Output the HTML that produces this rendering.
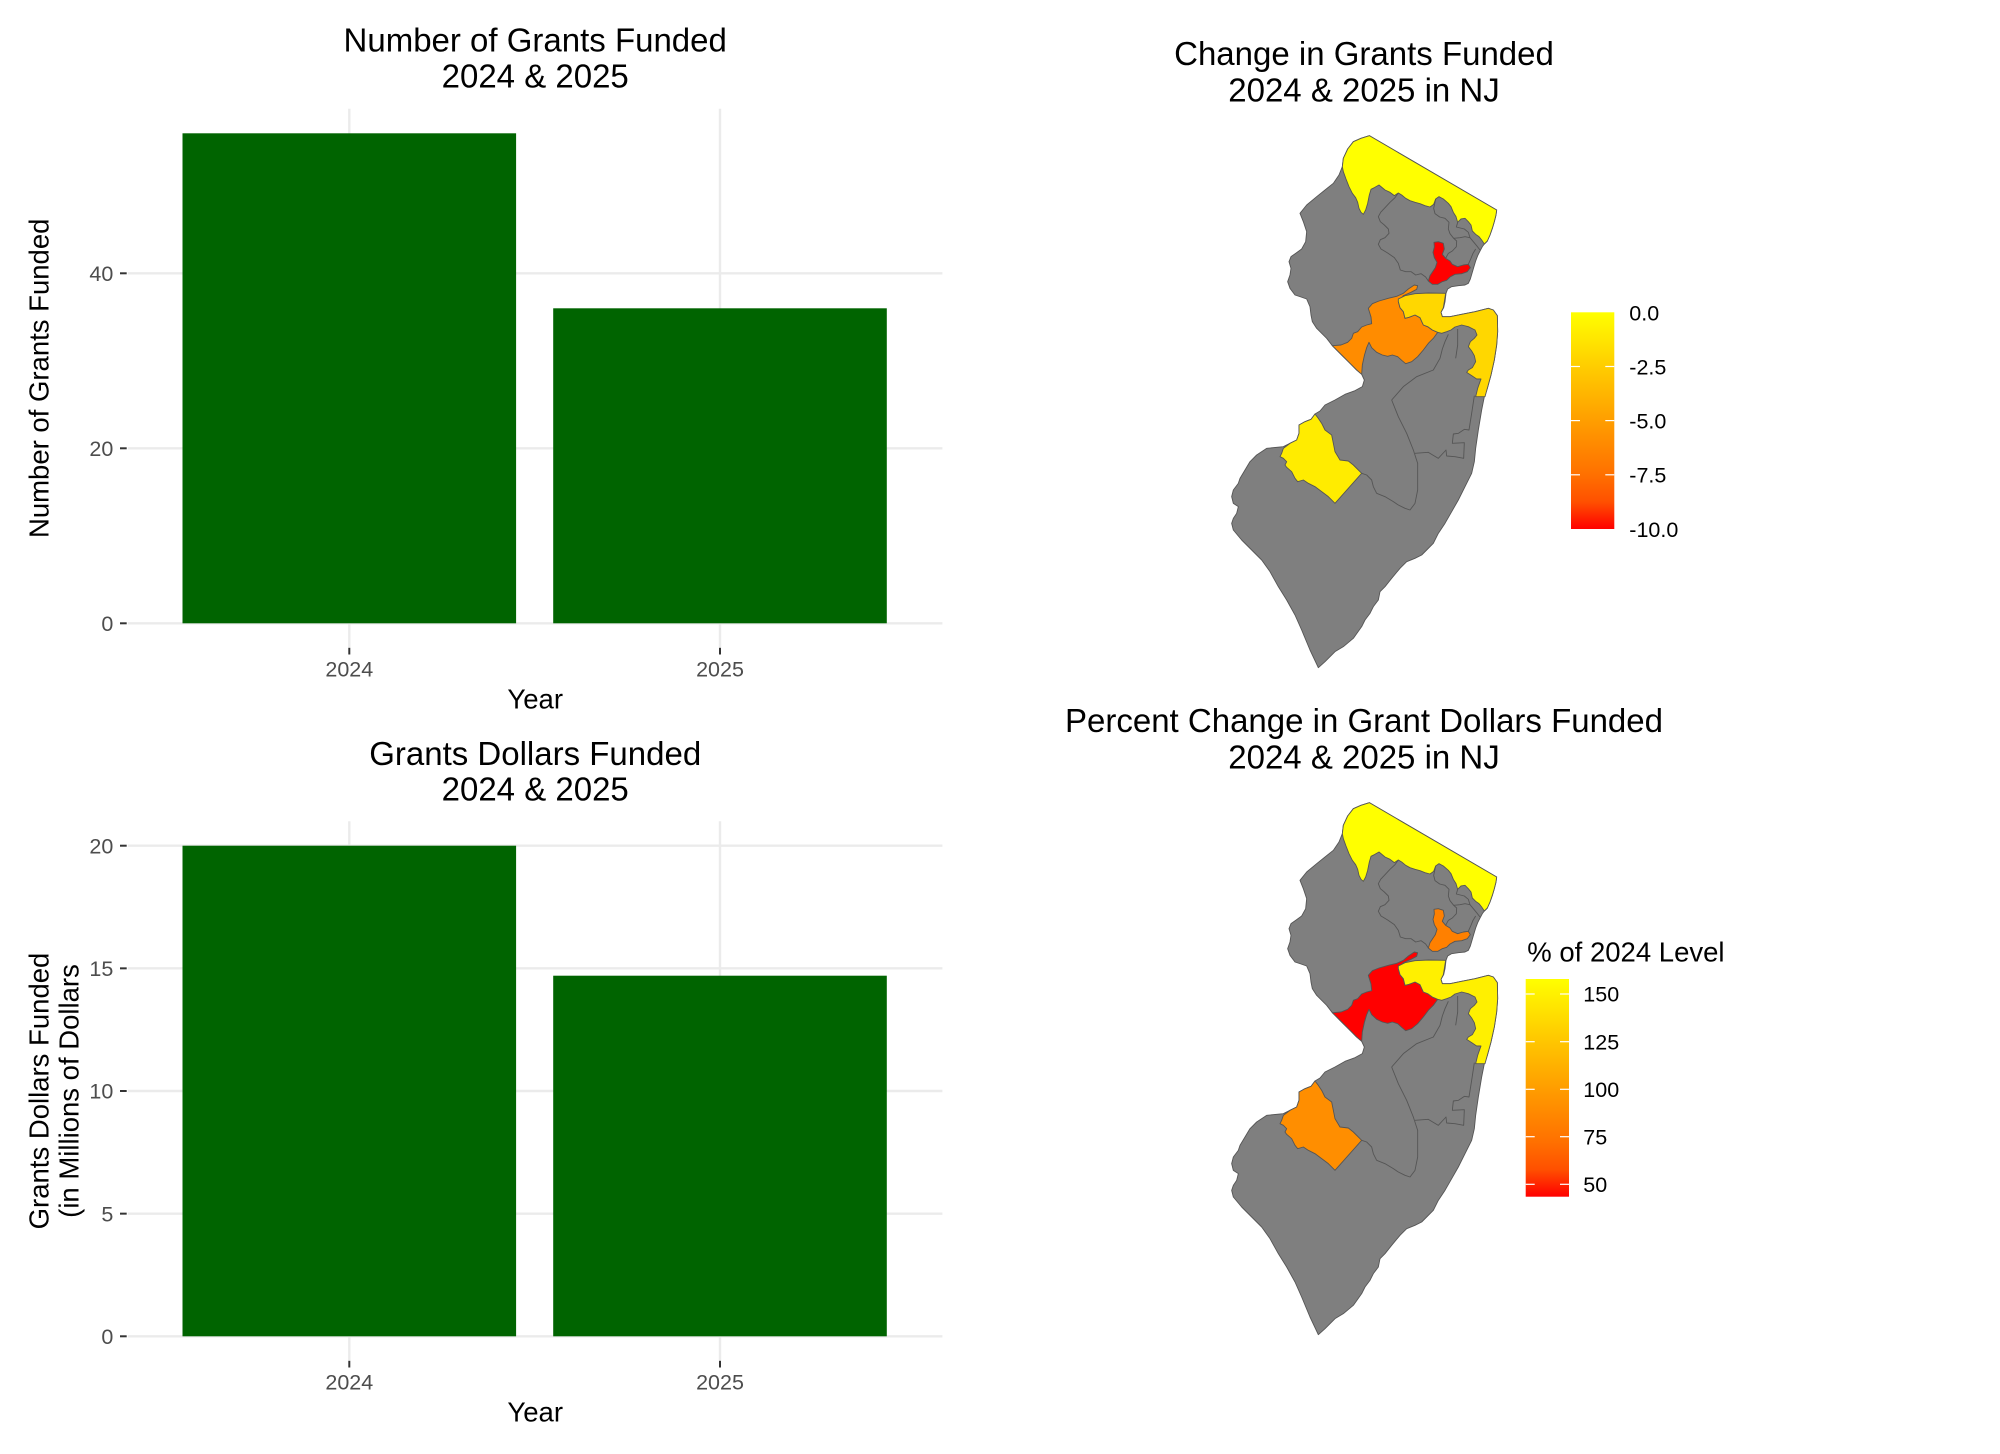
<!DOCTYPE html>
<html>
<head>
<meta charset="utf-8">
<style>
  html, body { margin: 0; padding: 0; background: #ffffff; }
  svg { display: block; }
  text { font-family: "Liberation Sans", Arial, sans-serif; }
</style>
</head>
<body>
<svg width="2000" height="1454" viewBox="0 0 2000 1454" xmlns="http://www.w3.org/2000/svg">
  <defs>
    <linearGradient id="rygrad" x1="0" y1="0" x2="0" y2="1">
      <stop offset="0" stop-color="#FFFF00"/>
      <stop offset="0.125" stop-color="#FFE600"/>
      <stop offset="0.25" stop-color="#FFCD00"/>
      <stop offset="0.5" stop-color="#FF9E00"/>
      <stop offset="0.75" stop-color="#FF7000"/>
      <stop offset="0.875" stop-color="#FF5000"/>
      <stop offset="1" stop-color="#FF0000"/>
    </linearGradient>

    <polygon id="state" points="403,32 785,255 783,270 778,290 772,310 765,330 757,348 748,357 742,365 735,378 728,392 722,408 716,428 711,445 706,462 700,475 690,480 670,482 650,485 638,492 633,505 630,530 626,548 618,562 622,575 645,575 680,568 720,560 760,550 775,555 787,572 788,620 785,660 778,705 768,750 757,790 748,815 740,855 730,915 722,970 718,1010 710,1045 690,1085 670,1125 650,1160 630,1195 610,1225 595,1255 575,1275 560,1290 540,1300 515,1310 495,1330 470,1360 450,1385 435,1400 430,1425 415,1445 405,1465 390,1485 380,1505 355,1540 325,1565 300,1580 270,1610 250,1628 225,1575 200,1515 180,1470 155,1425 130,1385 105,1340 80,1305 50,1275 20,1245 -5,1215 -10,1195 -5,1180 5,1165 10,1145 -5,1135 -10,1115 -5,1095 10,1075 15,1060 30,1035 45,1010 65,990 95,970 145,965 165,955 185,945 192,925 192,900 210,890 228,883 240,867 255,858 270,840 300,825 330,808 360,797 382,785 388,765 380,748 365,735 345,715 320,690 292,662 275,640 260,625 245,610 232,590 228,570 225,545 215,522 198,516 180,510 165,490 158,470 165,450 168,430 162,410 168,395 182,385 200,372 212,350 215,320 205,290 195,265 215,240 245,215 270,195 295,175 312,150 322,125 325,100 338,72 355,50 378,40"/>
    <polygon id="d5" points="403,32 785,255 783,270 778,290 772,310 765,330 757,348 748,357 740,345 732,335 722,328 712,318 708,300 700,290 690,280 678,282 668,292 663,275 655,262 648,245 640,235 625,222 612,215 602,222 596,238 585,246 570,242 555,236 540,232 525,227 512,220 500,210 490,204 478,212 465,202 450,195 432,180 418,188 408,193 403,210 398,235 392,255 385,268 378,262 372,250 368,232 362,218 352,205 342,185 333,162 325,140 322,125 325,100 338,72 355,50 378,40"/>
    <polygon id="d10" points="597,352 610,350 625,355 628,372 622,388 632,400 645,408 652,418 668,425 685,420 700,418 706,428 697,440 680,446 660,448 645,456 635,466 622,470 608,478 592,478 580,468 585,452 593,440 601,428 606,412 598,398 594,382 598,366"/>
    <polygon id="d12" points="292,662 318,660 338,652 350,640 355,625 368,620 380,606 395,600 410,596 408,576 400,550 412,536 432,528 460,520 485,514 505,505 520,492 538,480 548,482 545,493 528,502 505,512 490,530 495,548 505,560 510,580 522,577 540,570 555,578 565,600 578,605 592,615 608,622 595,640 580,655 565,675 548,695 530,710 512,716 500,706 488,695 472,690 458,694 442,690 425,682 410,668 402,652 395,668 388,692 382,720 380,748 365,735 345,715 320,690"/>
    <polygon id="d6" points="490,522 510,512 540,506 580,504 632,505 628,530 625,548 618,562 622,575 645,575 680,568 720,560 760,550 775,555 787,572 788,620 785,660 778,705 768,750 757,790 750,815 722,815 728,790 735,770 738,762 725,762 710,752 695,742 700,735 712,728 722,710 718,692 710,678 700,665 706,650 718,640 726,630 720,615 700,605 680,600 660,606 648,615 635,620 620,625 608,622 592,615 578,605 565,600 555,578 540,570 522,577 510,580 505,560 495,548 490,530"/>
    <polygon id="d3" points="240,867 250,880 260,895 270,915 290,930 295,955 300,980 315,1005 340,1008 355,1020 380,1045 300,1135 280,1115 260,1100 240,1085 220,1075 205,1065 188,1070 180,1060 170,1040 155,1027 150,1020 155,1010 145,1000 135,995 140,985 145,970 165,955 185,945 192,925 192,900 210,890 228,883"/>
    <g id="lines" fill="none" stroke="#555555" stroke-width="2.7">
      <polyline points="490,204 480,218 465,232 450,248 437,262 430,275 436,290 448,300 460,312 462,325 450,338 436,344 430,358 438,372 458,384 478,398 490,415 496,435 512,440 528,440 542,450 558,446 572,456 580,468"/>
      <polyline points="602,222 596,250 600,266 614,276 630,280 642,292 640,312 645,326 656,340 665,348 664,365 652,378 640,385 632,400"/>
      <polyline points="668,292 664,306 688,312 700,322 705,338 715,350 725,362 735,375"/>
      <polyline points="656,340 675,338 690,335 705,338"/>
      <polyline points="700,418 708,400 714,385 722,372"/>
      <polyline points="470,825 505,785 545,755 595,735 615,700 622,672 630,650 640,628"/>
      <polyline points="668,612 668,660 662,700"/>
      <polyline points="470,825 490,875 515,925 535,975 548,1015 548,1095 540,1135 525,1155 510,1150 490,1140 475,1130 450,1115 425,1105 415,1085 410,1065 395,1050 380,1045"/>
      <polyline points="718,812 710,865 702,915 688,913 670,925 655,927 652,955 688,953 686,1000 660,995 635,993 633,975 610,1000 580,982 540,985"/>
    </g>
  </defs>

  <!-- ================= TOP-LEFT BAR CHART ================= -->
  <g>
    <g stroke="#EBEBEB" stroke-width="2.4">
      <line x1="127.9" y1="623.3" x2="942.4" y2="623.3"/>
      <line x1="127.9" y1="448.3" x2="942.4" y2="448.3"/>
      <line x1="127.9" y1="273.3" x2="942.4" y2="273.3"/>
      <line x1="349.3" y1="108.8" x2="349.3" y2="647.8"/>
      <line x1="720" y1="108.8" x2="720" y2="647.8"/>
    </g>
    <rect x="182.5" y="133.3" width="333.6" height="490" fill="#006400"/>
    <rect x="553.2" y="308.3" width="333.6" height="315" fill="#006400"/>
    <g stroke="#333333" stroke-width="2">
      <line x1="120" y1="623.3" x2="126.7" y2="623.3"/>
      <line x1="120" y1="448.3" x2="126.7" y2="448.3"/>
      <line x1="120" y1="273.3" x2="126.7" y2="273.3"/>
      <line x1="349.3" y1="647.8" x2="349.3" y2="654.5"/>
      <line x1="720" y1="647.8" x2="720" y2="654.5"/>
    </g>
    <g font-size="21.5" fill="#4D4D4D" text-anchor="end">
      <text x="113.3" y="631">0</text>
      <text x="113.3" y="456">20</text>
      <text x="113.3" y="281">40</text>
    </g>
    <g font-size="21.5" fill="#4D4D4D" text-anchor="middle">
      <text x="349.3" y="676.7">2024</text>
      <text x="720" y="676.7">2025</text>
    </g>
    <text x="535.2" y="708.3" font-size="27.5" text-anchor="middle" fill="#000">Year</text>
    <text transform="translate(48.3,378.3) rotate(-90)" font-size="27.5" text-anchor="middle" fill="#000">Number of Grants Funded</text>
    <g font-size="33" text-anchor="middle" fill="#000">
      <text x="535.2" y="51.7">Number of Grants Funded</text>
      <text x="535.2" y="87.3">2024 &amp; 2025</text>
    </g>
  </g>

  <!-- ================= BOTTOM-LEFT BAR CHART ================= -->
  <g>
    <g stroke="#EBEBEB" stroke-width="2.4">
      <line x1="127.9" y1="1336.3" x2="942.4" y2="1336.3"/>
      <line x1="127.9" y1="1213.65" x2="942.4" y2="1213.65"/>
      <line x1="127.9" y1="1091" x2="942.4" y2="1091"/>
      <line x1="127.9" y1="968.35" x2="942.4" y2="968.35"/>
      <line x1="127.9" y1="845.7" x2="942.4" y2="845.7"/>
      <line x1="349.3" y1="821.2" x2="349.3" y2="1360.8"/>
      <line x1="720" y1="821.2" x2="720" y2="1360.8"/>
    </g>
    <rect x="182.5" y="845.7" width="333.6" height="490.6" fill="#006400"/>
    <rect x="553.2" y="975.7" width="333.6" height="360.6" fill="#006400"/>
    <g stroke="#333333" stroke-width="2">
      <line x1="120" y1="1336.3" x2="126.7" y2="1336.3"/>
      <line x1="120" y1="1213.65" x2="126.7" y2="1213.65"/>
      <line x1="120" y1="1091" x2="126.7" y2="1091"/>
      <line x1="120" y1="968.35" x2="126.7" y2="968.35"/>
      <line x1="120" y1="845.7" x2="126.7" y2="845.7"/>
      <line x1="349.3" y1="1360.8" x2="349.3" y2="1367.5"/>
      <line x1="720" y1="1360.8" x2="720" y2="1367.5"/>
    </g>
    <g font-size="21.5" fill="#4D4D4D" text-anchor="end">
      <text x="113.3" y="1344">0</text>
      <text x="113.3" y="1221.35">5</text>
      <text x="113.3" y="1098.7">10</text>
      <text x="113.3" y="976.05">15</text>
      <text x="113.3" y="853.4">20</text>
    </g>
    <g font-size="21.5" fill="#4D4D4D" text-anchor="middle">
      <text x="349.3" y="1389.7">2024</text>
      <text x="720" y="1389.7">2025</text>
    </g>
    <text x="535.2" y="1421.3" font-size="27.5" text-anchor="middle" fill="#000">Year</text>
    <text transform="translate(48.3,1091) rotate(-90)" font-size="27.5" text-anchor="middle" fill="#000">Grants Dollars Funded</text>
    <text transform="translate(78.3,1091) rotate(-90)" font-size="27.5" text-anchor="middle" fill="#000">(in Millions of Dollars</text>
    <g font-size="33" text-anchor="middle" fill="#000">
      <text x="535.2" y="765">Grants Dollars Funded</text>
      <text x="535.2" y="800.7">2024 &amp; 2025</text>
    </g>
  </g>

  <!-- ================= TOP-RIGHT MAP ================= -->
  <g>
    <g font-size="33" text-anchor="middle" fill="#000">
      <text x="1364" y="65">Change in Grants Funded</text>
      <text x="1364" y="101.7">2024 &amp; 2025 in NJ</text>
    </g>
    <g transform="translate(1235,125) scale(0.333333)" stroke="#555555" stroke-width="2.7" stroke-linejoin="round">
      <use href="#state" fill="#7F7F7F"/>
      <use href="#d5" fill="#FFFF00"/>
      <use href="#d10" fill="#FF0000"/>
      <use href="#d12" fill="#FF8C00"/>
      <use href="#d6" fill="#FFD700"/>
      <use href="#d3" fill="#FFEC00"/>
      <use href="#lines"/>
    </g>
    <rect x="1571" y="312.3" width="43.3" height="216.7" fill="url(#rygrad)"/>
    <g stroke="#FFFFFF" stroke-width="1.2">
      <line x1="1571" y1="366.5" x2="1580" y2="366.5"/><line x1="1605.3" y1="366.5" x2="1614.3" y2="366.5"/>
      <line x1="1571" y1="420.6" x2="1580" y2="420.6"/><line x1="1605.3" y1="420.6" x2="1614.3" y2="420.6"/>
      <line x1="1571" y1="474.8" x2="1580" y2="474.8"/><line x1="1605.3" y1="474.8" x2="1614.3" y2="474.8"/>
    </g>
    <g font-size="21.5" fill="#000">
      <text x="1629.3" y="320.5">0.0</text>
      <text x="1629.3" y="374.5">-2.5</text>
      <text x="1629.3" y="428.5">-5.0</text>
      <text x="1629.3" y="482.5">-7.5</text>
      <text x="1629.3" y="537">-10.0</text>
    </g>
  </g>

  <!-- ================= BOTTOM-RIGHT MAP ================= -->
  <g>
    <g font-size="33" text-anchor="middle" fill="#000">
      <text x="1364" y="732">Percent Change in Grant Dollars Funded</text>
      <text x="1364" y="768.7">2024 &amp; 2025 in NJ</text>
    </g>
    <g transform="translate(1235,792) scale(0.333333)" stroke="#555555" stroke-width="2.7" stroke-linejoin="round">
      <use href="#state" fill="#7F7F7F"/>
      <use href="#d5" fill="#FFFF00"/>
      <use href="#d10" fill="#FF8000"/>
      <use href="#d12" fill="#FF0000"/>
      <use href="#d6" fill="#FFF000"/>
      <use href="#d3" fill="#FF8E00"/>
      <use href="#lines"/>
    </g>
    <text x="1527.3" y="961.7" font-size="27.5" fill="#000">% of 2024 Level</text>
    <rect x="1525.7" y="979" width="43.3" height="217.7" fill="url(#rygrad)"/>
    <g stroke="#FFFFFF" stroke-width="1.2">
      <line x1="1525.7" y1="994" x2="1534.7" y2="994"/><line x1="1560" y1="994" x2="1569" y2="994"/>
      <line x1="1525.7" y1="1041.7" x2="1534.7" y2="1041.7"/><line x1="1560" y1="1041.7" x2="1569" y2="1041.7"/>
      <line x1="1525.7" y1="1089.3" x2="1534.7" y2="1089.3"/><line x1="1560" y1="1089.3" x2="1569" y2="1089.3"/>
      <line x1="1525.7" y1="1136.7" x2="1534.7" y2="1136.7"/><line x1="1560" y1="1136.7" x2="1569" y2="1136.7"/>
      <line x1="1525.7" y1="1184.3" x2="1534.7" y2="1184.3"/><line x1="1560" y1="1184.3" x2="1569" y2="1184.3"/>
    </g>
    <g font-size="21.5" fill="#000">
      <text x="1583.3" y="1001.7">150</text>
      <text x="1583.3" y="1049.4">125</text>
      <text x="1583.3" y="1097">100</text>
      <text x="1583.3" y="1144.4">75</text>
      <text x="1583.3" y="1192">50</text>
    </g>
  </g>
</svg>
</body>
</html>
